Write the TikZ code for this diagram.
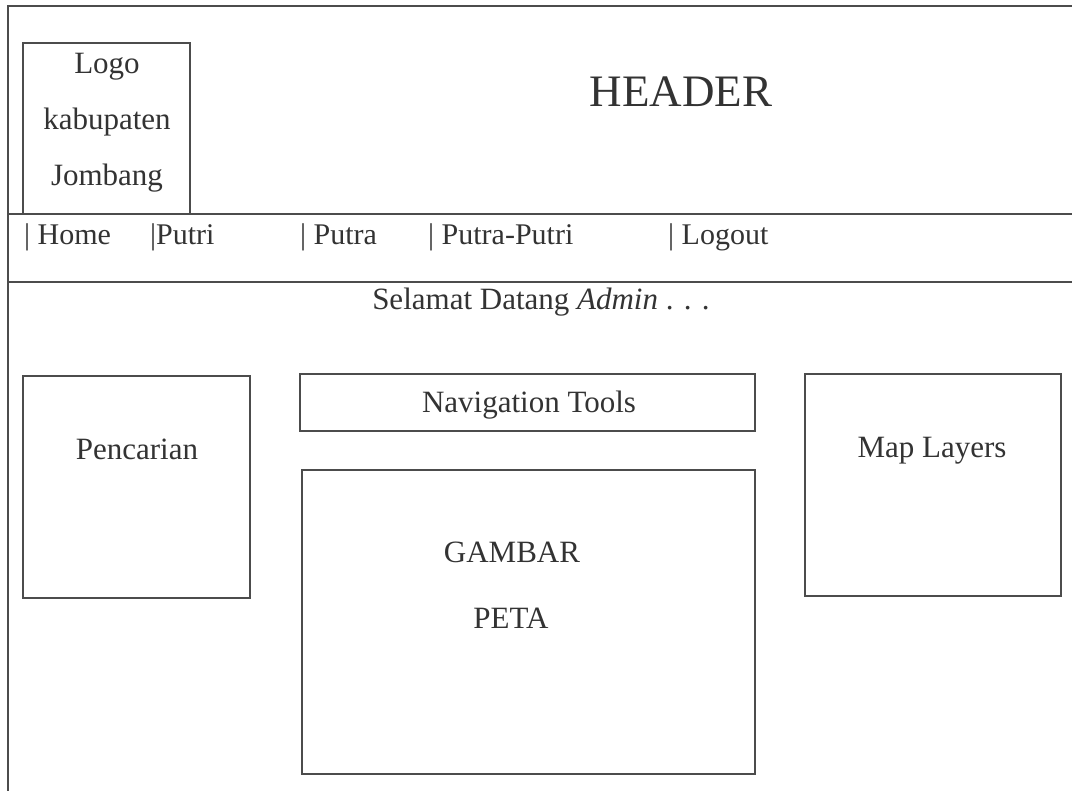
\documentclass[tikz,border=0pt]{standalone}
\usepackage{fontspec}
\setmainfont{Liberation Serif}
\begin{document}
\begin{tikzpicture}[x=1pt,y=-1pt,
  ln/.style={draw=black!70, line width=1.4pt},
  box/.style={ln, rectangle, inner sep=0pt},
  txt/.style={anchor=base, inner sep=0pt, text=black!80, font=\fontsize{31}{31}\selectfont},
  mtxt/.style={anchor=base west, inner sep=0pt, text=black!80, font=\fontsize{30}{30}\selectfont},
  big/.style={anchor=base, inner sep=0pt, text=black!80, font=\fontsize{45}{45}\selectfont}]
\useasboundingbox (0,0) rectangle (1072,791);
\fill[white] (0,0) rectangle (1072,791);
% outer frame and bands
\coordinate (tl) at (8,6);
\coordinate (tr) at (1072,6);
\coordinate (bl) at (8,791);
\coordinate (l1a) at (8,214);
\coordinate (l1b) at (1072,214);
\coordinate (l2a) at (8,282);
\coordinate (l2b) at (1072,282);
\draw[ln] (tr) -- (tl) -- (bl);
\draw[ln] (l1a) -- (l1b);
\draw[ln] (l2a) -- (l2b);
% boxes
\node[box, minimum width=167pt, minimum height=171pt] (logo) at (106.5,128.5) {};
\node[box, minimum width=227pt, minimum height=222pt] (pencarian) at (136.5,487) {};
\node[box, minimum width=455pt, minimum height=57pt] (nav) at (527.5,402.5) {};
\node[box, minimum width=453pt, minimum height=304pt] (peta) at (528.5,622) {};
\node[box, minimum width=256pt, minimum height=222pt] (layers) at (933,485) {};
% texts
\node[txt] (t1) at (107,74) {Logo};
\node[txt] (t2) at (107,130) {kabupaten};
\node[txt] (t3) at (107,186) {Jombang};
\node[big] (header) at (681,107) {HEADER};
\node[mtxt] (m1) at (24,245) {| Home};
\node[mtxt] (m2) at (150,245) {|Putri};
\node[mtxt] (m3) at (300,245) {| Putra};
\node[mtxt] (m4) at (428,245) {| Putra-Putri};
\node[mtxt] (m5) at (668,245) {| Logout};
\node[txt] (welcome) at (541,310) {Selamat Datang \textit{Admin} . . .};
\node[txt] (tnav) at (529,413) {Navigation Tools};
\node[txt] (tpen) at (137,460) {Pencarian};
\node[txt] (tlay) at (932,458) {Map Layers};
\node[txt] (tg1) at (512,562) {GAMBAR};
\node[txt] (tg2) at (511,628) {PETA};
\end{tikzpicture}
\end{document}
